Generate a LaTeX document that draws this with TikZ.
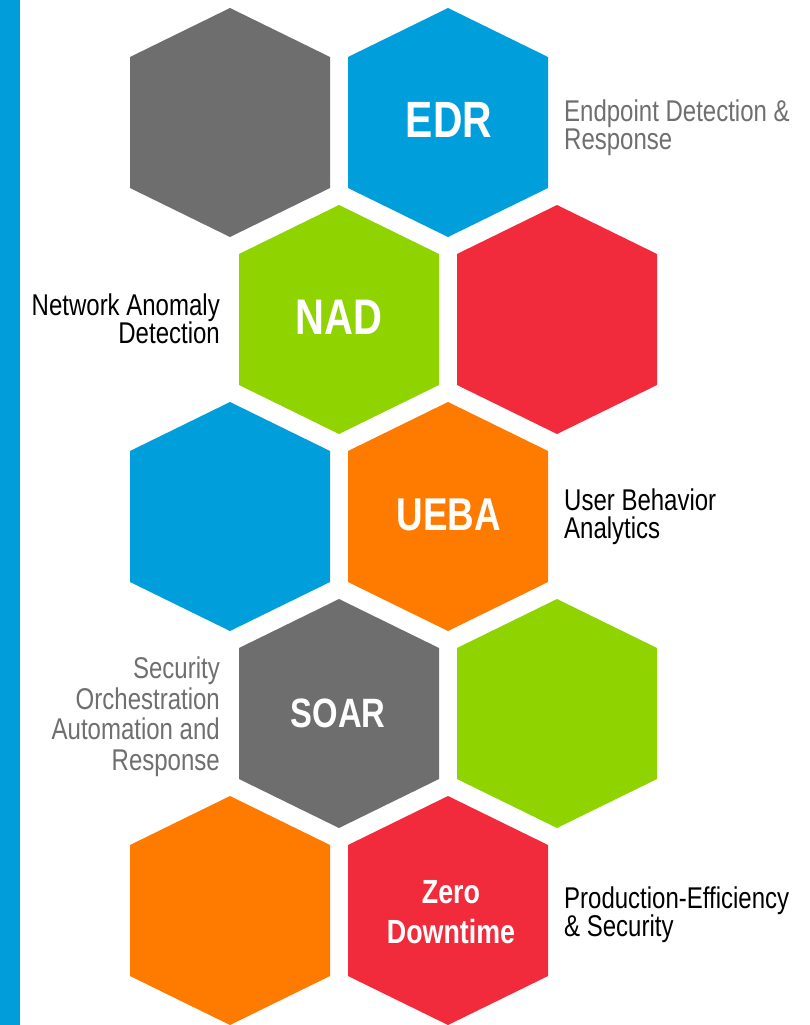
\documentclass[tikz,border=0pt]{standalone}
\usepackage{fontspec}
\setmainfont{Liberation Sans}[FakeStretch=0.8]
\definecolor{hgray}{HTML}{6E6E6E}
\definecolor{hblue}{HTML}{009FDC}
\definecolor{hgreen}{HTML}{8FD400}
\definecolor{hred}{HTML}{F22B3C}
\definecolor{horange}{HTML}{FF7B00}
\definecolor{barblue}{HTML}{009DDB}
\definecolor{labgray}{HTML}{6F6F6F}
\newcommand{\hexat}[3]{%
  \fill[#3] (#1,#2) ++(0,-114.5) -- ++(100,49) -- ++(0,131) -- ++(-100,49) -- ++(-100,-49) -- ++(0,-131) -- cycle;}
\tikzset{
  hextext/.style={text=white, inner sep=0pt, align=center},
  lab/.style={inner sep=0pt, font=\fontsize{30}{28}\selectfont},
}
\begin{document}
\begin{tikzpicture}[x=1pt,y=-1pt]
\useasboundingbox (0,0) rectangle (809,1025);
\fill[white] (0,0) rectangle (809,1025);
\fill[barblue] (0,0) rectangle (19.5,1025);
% row 1
\hexat{230}{122.5}{hgray}
\hexat{448}{122.5}{hblue}
% row 2
\hexat{339}{319.5}{hgreen}
\hexat{557}{319.5}{hred}
% row 3
\hexat{230}{516.5}{hblue}
\hexat{448}{516.5}{horange}
% row 4
\hexat{339}{713.5}{hgray}
\hexat{557}{713.5}{hgreen}
% row 5
\hexat{230}{910.5}{horange}
\hexat{448}{910.5}{hred}
% hex texts
\node[hextext, font=\fontsize{51}{51}\selectfont\bfseries] (edr) at (449,120) {EDR};
\node[hextext, font=\fontsize{50}{50}\selectfont\bfseries] (nad) at (339,317) {NAD};
\node[hextext, font=\fontsize{46}{46}\selectfont\bfseries] (ueba) at (449,515) {UEBA};
\node[hextext, font=\fontsize{41}{41}\selectfont\bfseries] (soar) at (338,713) {SOAR};
\node[hextext, font=\fontsize{33.5}{40}\selectfont\bfseries] (zd) at (451,912) {Zero\\Downtime};
% labels
\node[lab, text=labgray, anchor=north west, align=left] (edrl) at (564,100) {Endpoint Detection \&\\Response};
\node[lab, text=black, anchor=north east, align=right] (nadl) at (220,294) {Network Anomaly\\Detection};
\node[lab, text=black, anchor=north west, align=left] (uebal) at (564,489) {User Behavior\\Analytics};
\node[lab, text=labgray, anchor=north east, align=right, font=\fontsize{30}{30.5}\selectfont] (soarl) at (220,657) {Security\\Orchestration\\Automation and\\Response};
\node[lab, text=black, anchor=north west, align=left] (zdl) at (564,887) {Production-Efficiency\\\& Security};
\end{tikzpicture}
\end{document}
